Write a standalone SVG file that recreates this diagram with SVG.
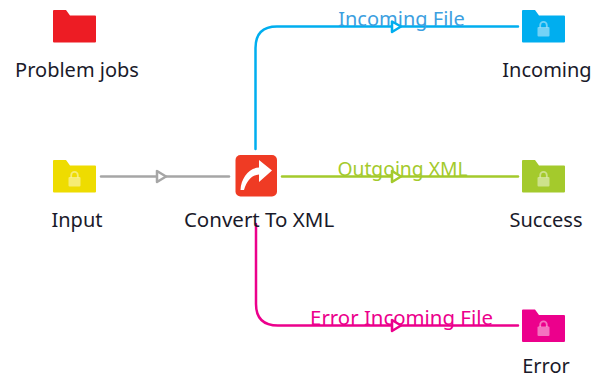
<svg xmlns="http://www.w3.org/2000/svg" width="593" height="379" viewBox="0 0 593 379">
<style>
text{font-family:"Noto Sans","DejaVu Sans",sans-serif;font-size:20px;text-anchor:middle}
.n{fill:#1a1a2a}
.c{fill:none;stroke-width:2.5;stroke-linecap:round}
.a{fill:#fff;stroke-width:2.5;stroke-linejoin:round}
.lk{fill:#fff;fill-opacity:.45}
.ls{fill:none;stroke:#fff;stroke-opacity:.45;stroke-width:1.8}
</style>
<defs>
<path id="f" d="M1 0H13L17 5.500H42A1 1 0 0 1 43 6.500V31.500A1 1 0 0 1 42 32.500H1A1 1 0 0 1 0 31.500V1A1 1 0 0 1 1 0Z"/>
<g id="l"><rect class="lk" x="15.500" y="17" width="12" height="9.500" rx="1"/><path class="ls" d="M18.200 17.500V15.200A3.300 3.300 0 0 1 24.800 15.200V17.500"/></g>
</defs>
<g id="connectors">
<g><path class="c" stroke="#a6a6a6" d="M101 176.500H229"/><path class="a" stroke="#a6a6a6" d="M157 171V182L166 176.500Z"/></g>
<g><path class="c" stroke="#00aeef" d="M255.500 149V48Q255.500 26.500 277 26.500H518"/><text x="401.500" y="26" fill="#3d9fe0">Incoming File</text><path class="a" stroke="#00aeef" d="M392 21.500V32L401 26.500Z"/></g>
<g><path class="c" stroke="#a4ca2c" d="M282 176.500H518"/><text x="402.500" y="176" fill="#a4ca2c" style="font-size:19.300px">Outgoing XML</text><path class="a" stroke="#a4ca2c" d="M392 171V182L401 176.500Z"/></g>
<g><path class="c" stroke="#ec008c" d="M256 224V304Q256 325.500 278 325.500H518"/><text x="401.500" y="325" fill="#ec008c" style="font-size:20.400px">Error Incoming File</text><path class="a" stroke="#ec008c" d="M392 320V331L401 325.500Z"/></g>
</g>
<g id="problem-jobs"><use href="#f" x="53" y="10" fill="#ed1c24"/><text class="n" x="77" y="77">Problem jobs</text></g>
<g id="incoming"><use href="#f" x="522" y="10" fill="#00aeef"/><use href="#l" x="522" y="10"/><text class="n" x="547" y="77">Incoming</text></g>
<g id="input"><use href="#f" x="53" y="160" fill="#eedc00"/><use href="#l" x="53" y="160"/><text class="n" x="77" y="226.500">Input</text></g>
<g id="convert-to-xml"><rect x="235.500" y="155" width="41.500" height="41.500" rx="5" fill="#ef3b24"/><path fill="#fff" d="M240.500 190C241 178 249 168 259 167.500V160L272 170.500L259 182V174.500C252 175 247 180 244 190Z"/><text class="n" x="259" y="226.500" style="font-size:20.500px">Convert To XML</text></g>
<g id="success"><use href="#f" x="522" y="160" fill="#a4ca2c"/><use href="#l" x="522" y="160"/><text class="n" x="546" y="226.500">Success</text></g>
<g id="error"><use href="#f" x="522" y="309.500" fill="#ec008c"/><use href="#l" x="522" y="309.500"/><text class="n" x="546" y="373">Error</text></g>
</svg>
